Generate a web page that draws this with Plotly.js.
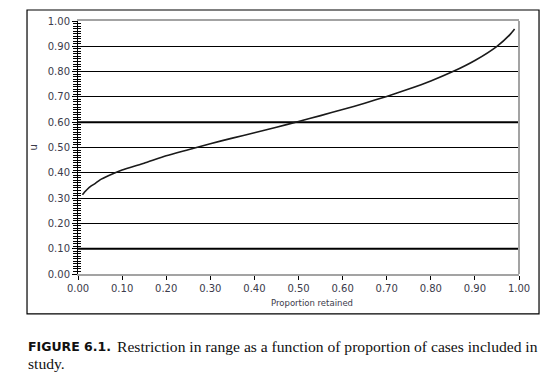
<!DOCTYPE html>
<html>
<head>
<meta charset="utf-8">
<script src="https://cdn.plot.ly/plotly-3.0.1.min.js"></script>
<style>
html,body{margin:0;padding:0;background:#fff;}
#chart{width:554px;height:383px;}
</style>
</head>
<body>
<div id="chart"></div>
<script>
// Proportion of cases retained (x) and resulting u (y)
const proportionRetained = [0.01, 0.015, 0.02, 0.03, 0.04, 0.05, 0.07, 0.10, 0.15, 0.20, 0.25, 0.30, 0.35, 0.40, 0.45, 0.50, 0.55, 0.60, 0.65, 0.70, 0.75, 0.80, 0.85, 0.90, 0.95, 0.98, 0.99];
const uValues = [0.313, 0.324, 0.333, 0.348, 0.359, 0.372, 0.389, 0.411, 0.438, 0.467, 0.491, 0.515, 0.537, 0.558, 0.580, 0.603, 0.626, 0.650, 0.675, 0.702, 0.731, 0.763, 0.800, 0.844, 0.900, 0.947, 0.968];
const tickValues = [0, 0.1, 0.2, 0.3, 0.4, 0.5, 0.6, 0.7, 0.8, 0.9, 1.0];
const tickLabels = ["0.00", "0.10", "0.20", "0.30", "0.40", "0.50", "0.60", "0.70", "0.80", "0.90", "1.00"];
const heavyGridLevels = [0.1, 0.6];
const xTitle = "Proportion retained";
const yTitle = "u";
const captionBold = "FIGURE 6.1.";
const captionLine1 = "Restriction in range as a function of proportion of cases included in";
const captionLine2 = "study.";

const tickFont = {family: "DejaVu Sans", size: 10, color: "#3b3b4b"};
const GRAY = "#a3a3a3";

const traces = [
  {x: proportionRetained, y: uValues, type: "scatter", mode: "lines",
   line: {color: "#1a1a1a", width: 1.6, shape: "spline", smoothing: 0.5},
   hoverinfo: "skip", showlegend: false},
  {x: [], y: [], yaxis: "y2", type: "scatter", showlegend: false}
];

const shapes = heavyGridLevels.map(v => ({
  type: "line", xref: "paper", x0: 0, x1: 1, yref: "y", y0: v, y1: v,
  line: {color: "#000", width: 2}, layer: "below"
}));
shapes.push({type: "line", xref: "paper", yref: "paper", x0: 1, x1: 1, y0: 0, y1: 1,
  line: {color: GRAY, width: 2}, layer: "above"});
shapes.push({type: "rect", xref: "paper", yref: "paper",
  x0: -0.1156, x1: 1.0454, y0: -0.158, y1: 1.0435,
  line: {color: "#000", width: 1.2}, fillcolor: "rgba(0,0,0,0)", layer: "below"});

const layout = {
  width: 554, height: 383,
  margin: {l: 78, r: 35, t: 21, b: 109, pad: 0},
  paper_bgcolor: "#fff", plot_bgcolor: "#fff",
  showlegend: false,
  xaxis: {
    range: [0, 1], tickvals: tickValues, ticktext: tickLabels,
    ticks: "outside", ticklen: 4, tickcolor: "#000", tickwidth: 1,
    showgrid: false, zeroline: false,
    showline: true, linecolor: GRAY, linewidth: 2, mirror: true,
    tickfont: tickFont, fixedrange: true
  },
  yaxis: {
    range: [0, 1], tickvals: tickValues, ticktext: tickLabels,
    ticks: "outside", ticklen: 5, tickcolor: "#000", tickwidth: 1,
    minor: {dtick: 0.01, ticks: "outside", ticklen: 4, tickcolor: "#000", tickwidth: 1, showgrid: false},
    showgrid: true, gridcolor: "#000", gridwidth: 1, zeroline: false,
    showline: true, linecolor: "#000", linewidth: 1,
    tickfont: tickFont, fixedrange: true
  },
  yaxis2: {
    overlaying: "y", side: "left", range: [0, 1], tickvals: tickValues,
    showticklabels: false, ticks: "inside", ticklen: 3, tickcolor: "#000", tickwidth: 1,
    minor: {dtick: 0.01, ticks: "inside", ticklen: 3, tickcolor: "#000", tickwidth: 1, showgrid: false},
    showgrid: false, zeroline: false, showline: false, fixedrange: true
  },
  shapes: shapes,
  annotations: [
    {text: xTitle, xref: "paper", yref: "paper", x: 0.5295, y: -0.1146,
     xanchor: "center", yanchor: "middle", showarrow: false,
     font: {family: "DejaVu Sans", size: 8.5, color: "#3b3b4b"}},
    {text: yTitle, xref: "paper", yref: "paper", x: -0.102, y: 0.5,
     xanchor: "center", yanchor: "middle", showarrow: false, textangle: -90,
     font: {family: "DejaVu Sans", size: 10, color: "#3b3b4b"}},
    {text: "<b>" + captionBold + "</b>", xref: "paper", yref: "paper", x: -0.1179, y: -0.2885,
     xanchor: "left", yanchor: "middle", showarrow: false,
     font: {family: "DejaVu Sans", size: 12.5, color: "#111"}},
    {text: captionLine1, xref: "paper", yref: "paper", x: 0.0839, y: -0.2885,
     xanchor: "left", yanchor: "middle", showarrow: false,
     font: {family: "Liberation Serif", size: 15.6, color: "#111"}},
    {text: captionLine2, xref: "paper", yref: "paper", x: -0.1179, y: -0.3518,
     xanchor: "left", yanchor: "middle", showarrow: false,
     font: {family: "Liberation Serif", size: 15.6, color: "#111"}}
  ]
};

Plotly.newPlot("chart", traces, layout, {displayModeBar: false, staticPlot: true});
</script>
</body>
</html>
